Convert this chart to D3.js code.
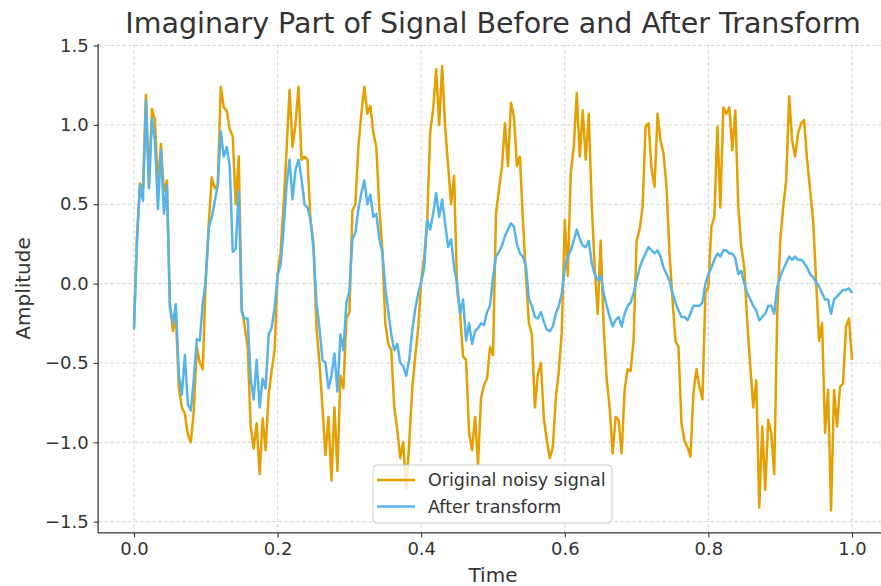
<!DOCTYPE html>
<html>
<head>
<meta charset="utf-8">
<script src="https://cdn.jsdelivr.net/npm/d3@7"></script>
<style>
    body { margin: 0; background: #fff; }
    svg { display: block; font-family: "DejaVu Sans", sans-serif; }
</style>
</head>
<body>
<div id="chart-div"></div>
<script>
// Values, one per time step (t = i / 240).
const originalSignal = [
    -0.27, 0.30, 0.63, 0.60, 1.19, 0.62, 1.10, 1.03, 0.62, 0.88,
    0.58, 0.65, -0.12, -0.30, -0.20, -0.66, -0.78, -0.82, -0.95, -1.00,
    -0.80, -0.40, -0.50, -0.54, 0.04, 0.38, 0.67, 0.60, 0.62, 1.24,
    1.11, 1.09, 0.97, 0.93, 0.50, 0.80, -0.15, -0.27, -0.40, -0.90,
    -1.04, -0.88, -1.20, -0.85, -1.05, -0.70, -0.55, -0.42, 0.06, 0.20,
    0.50, 0.84, 1.22, 0.86, 1.01, 1.24, 0.78, 0.80, 0.78, 0.40,
    0.25, -0.28, -0.50, -0.78, -1.08, -0.84, -1.24, -0.78, -1.18, -0.58,
    -0.66, -0.22, -0.18, 0.46, 0.50, 0.86, 1.07, 1.24, 1.07, 1.12,
    0.95, 0.86, 0.48, 0.22, -0.25, -0.38, -0.42, -0.78, -0.92, -1.10,
    -1.00, -1.30, -1.00, -0.66, -0.46, -0.28, 0.02, 0.17, 0.40, 0.95,
    1.10, 1.35, 1.00, 1.37, 0.99, 0.74, 0.50, 0.68, -0.04, -0.19,
    -0.46, -0.48, -0.94, -1.05, -0.84, -1.14, -0.72, -0.64, -0.60, -0.40,
    -0.45, 0.44, 0.59, 0.74, 1.01, 0.74, 1.14, 1.05, 0.74, 0.80,
    0.40, 0.05, -0.25, -0.32, -0.78, -0.57, -0.50, -0.85, -0.99, -1.10,
    -1.03, -0.72, -0.55, -0.30, 0.40, 0.05, 0.70, 0.86, 1.20, 0.80,
    1.09, 0.78, 1.07, 0.50, 0.10, -0.19, 0.27, -0.28, -0.60, -0.78,
    -1.07, -0.84, -0.86, -1.07, -0.67, -0.54, -0.55, -0.36, 0.27, 0.34,
    0.48, 0.99, 1.01, 0.72, 0.61, 1.07, 0.90, 0.82, 0.61, 0.19,
    -0.10, -0.36, -0.40, -0.88, -0.99, -1.03, -1.09, -0.69, -0.54, -0.65,
    -0.73, -0.06, -0.02, 0.36, 0.42, 0.99, 0.48, 1.11, 1.07, 1.11,
    0.84, 1.09, 0.48, 0.23, 0.10, -0.25, -0.52, -0.78, -0.61, -1.41,
    -0.90, -1.30, -0.86, -0.94, -1.20, -0.20, 0.27, 0.48, 0.65, 1.18,
    0.90, 0.80, 0.95, 1.01, 1.03, 0.78, 0.59, 0.40, 0.02, -0.36,
    -0.25, -0.94, -0.67, -1.43, -0.67, -0.90, -0.65, -0.63, -0.27, -0.22,
    -0.48
];
const transformedSignal = [
    -0.29, 0.27, 0.62, 0.52, 1.15, 0.60, 1.04, 0.90, 0.47, 0.84,
    0.44, 0.62, -0.15, -0.25, -0.13, -0.58, -0.70, -0.45, -0.76, -0.80,
    -0.60, -0.35, -0.36, -0.12, 0.02, 0.35, 0.42, 0.52, 0.62, 0.96,
    0.80, 0.86, 0.74, 0.20, 0.22, 0.58, -0.18, -0.22, -0.22, -0.60,
    -0.73, -0.48, -0.78, -0.60, -0.66, -0.32, -0.28, -0.15, 0.05, 0.12,
    0.34, 0.62, 0.78, 0.53, 0.72, 0.78, 0.66, 0.50, 0.48, 0.40,
    0.22, -0.12, -0.28, -0.48, -0.50, -0.66, -0.58, -0.44, -0.68, -0.32,
    -0.42, -0.12, -0.05, 0.28, 0.32, 0.47, 0.57, 0.65, 0.50, 0.56,
    0.42, 0.44, 0.28, 0.20, -0.02, -0.18, -0.32, -0.42, -0.38, -0.50,
    -0.52, -0.58, -0.48, -0.30, -0.16, -0.06, 0.01, 0.10, 0.40, 0.34,
    0.44, 0.57, 0.42, 0.53, 0.38, 0.23, 0.28, 0.10, 0.00, -0.19,
    -0.10, -0.36, -0.25, -0.38, -0.30, -0.28, -0.25, -0.26, -0.18, -0.14,
    0.04, 0.17, 0.20, 0.24, 0.30, 0.34, 0.38, 0.36, 0.25, 0.19,
    0.17, 0.11, -0.10, -0.14, -0.21, -0.22, -0.18, -0.24, -0.29, -0.30,
    -0.27, -0.19, -0.14, -0.06, 0.10, 0.17, 0.21, 0.27, 0.34, 0.28,
    0.24, 0.23, 0.27, 0.13, 0.06, 0.02, 0.05, -0.06, -0.14, -0.21,
    -0.27, -0.23, -0.21, -0.27, -0.19, -0.14, -0.12, -0.06, 0.02, 0.10,
    0.15, 0.19, 0.23, 0.21, 0.19, 0.21, 0.17, 0.10, 0.06, 0.02,
    -0.06, -0.12, -0.17, -0.21, -0.21, -0.23, -0.19, -0.14, -0.14, -0.14,
    -0.12, 0.00, 0.06, 0.10, 0.15, 0.19, 0.17, 0.21, 0.21, 0.19,
    0.19, 0.16, 0.06, 0.08, 0.00, -0.06, -0.10, -0.14, -0.17, -0.23,
    -0.21, -0.19, -0.14, -0.14, -0.19, -0.02, 0.04, 0.09, 0.13, 0.17,
    0.15, 0.17, 0.15, 0.15, 0.13, 0.10, 0.06, 0.04, 0.01, -0.02,
    -0.06, -0.10, -0.10, -0.19, -0.10, -0.08, -0.06, -0.04, -0.04, -0.03,
    -0.06
];
const xTicks = [0.0, 0.2, 0.4, 0.6, 0.8, 1.0];
const yTicks = [-1.5, -1.0, -0.5, 0.0, 0.5, 1.0, 1.5];
const seriesNames = ["Original noisy signal", "After transform"];
const seriesColors = ["#E69F00", "#56B4E9"];

(function() {
    const width = 881, height = 586;
    const textColor = "#333333";

    // SCALES /////////////////////////////////////////////////////////////////
    const x = d3.scaleLinear().domain([0, 1]).range([134, 852]);
    const y = d3.scaleLinear().domain([-1.5, 1.5]).range([521.7, 45.5]);
    const left = x(-0.05), right = x(1.05);
    const top = y(1.51), bottom = y(-1.571);

    const svg = d3.select("#chart-div").append("svg")
        .attr("width", width)
        .attr("height", height);

    svg.append("defs").append("clipPath").attr("id", "plot-clip")
        .append("rect")
        .attr("x", left).attr("y", top - 10)
        .attr("width", right - left).attr("height", bottom - top + 10);

    // GRID ///////////////////////////////////////////////////////////////////
    const grid = svg.append("g")
        .attr("stroke", "#cccccc")
        .attr("stroke-width", 0.8)
        .attr("stroke-dasharray", "4,2");
    grid.selectAll(".vgrid").data(xTicks).enter().append("line")
        .attr("x1", d => x(d)).attr("x2", d => x(d))
        .attr("y1", top).attr("y2", bottom);
    grid.selectAll(".hgrid").data(yTicks).enter().append("line")
        .attr("x1", left).attr("x2", right)
        .attr("y1", d => y(d)).attr("y2", d => y(d));

    // LINES //////////////////////////////////////////////////////////////////
    const series = [originalSignal, transformedSignal];
    const line = d3.line()
        .x((d, i) => x(i / (originalSignal.length - 1)))
        .y(d => y(d));
    svg.append("g").attr("clip-path", "url(#plot-clip)")
        .selectAll("path").data(series).enter().append("path")
        .attr("d", line)
        .attr("fill", "none")
        .attr("stroke", (d, i) => seriesColors[i])
        .attr("stroke-width", 2.5)
        .attr("stroke-linejoin", "round");

    // AXES ///////////////////////////////////////////////////////////////////
    const fmt = d => d3.format(".1f")(d).replace("-", "\u2212");
    const xAxis = svg.append("g")
        .attr("transform", `translate(0,${bottom})`)
        .call(d3.axisBottom(x).tickValues(xTicks).tickFormat(fmt)
            .tickSizeInner(4.5).tickSizeOuter(0).tickPadding(5));
    const yAxis = svg.append("g")
        .attr("transform", `translate(${left},0)`)
        .call(d3.axisLeft(y).tickValues(yTicks).tickFormat(fmt)
            .tickSizeInner(4.5).tickSizeOuter(0).tickPadding(5));
    xAxis.select(".domain").attr("d", `M${left},0H${right}`);
    yAxis.select(".domain").attr("d", `M0,${top}V${bottom}`);
    [xAxis, yAxis].forEach(function(a) {
        a.select(".domain").attr("stroke", textColor).attr("stroke-width", 1.25);
        a.selectAll(".tick line").attr("stroke", textColor).attr("stroke-width", 1.1);
        a.selectAll(".tick text")
            .attr("fill", textColor)
            .style("font-size", "18px")
            .style("font-family", "DejaVu Sans");
    });

    // LABELS /////////////////////////////////////////////////////////////////
    svg.append("text")
        .attr("x", (left + right) / 2).attr("y", 33)
        .attr("text-anchor", "middle")
        .attr("fill", textColor)
        .style("font-size", "28.5px")
        .text("Imaginary Part of Signal Before and After Transform");
    svg.append("text")
        .attr("x", (left + right) / 2).attr("y", 582)
        .attr("text-anchor", "middle")
        .attr("fill", textColor)
        .style("font-size", "20px")
        .text("Time");
    svg.append("text")
        .attr("transform", `translate(30,${(top + bottom) / 2}) rotate(-90)`)
        .attr("text-anchor", "middle")
        .attr("fill", textColor)
        .style("font-size", "20px")
        .text("Amplitude");

    // LEGEND /////////////////////////////////////////////////////////////////
    const legend = svg.append("g");
    legend.append("rect")
        .attr("x", 373).attr("y", 465)
        .attr("width", 239).attr("height", 58)
        .attr("rx", 4)
        .attr("fill", "#ffffff").attr("fill-opacity", 0.8)
        .attr("stroke", "#cccccc").attr("stroke-width", 1);
    const items = legend.selectAll(".item").data(seriesNames).enter()
        .append("g")
        .attr("transform", (d, i) => `translate(0,${480 + i * 26.5})`);
    items.append("line")
        .attr("x1", 377).attr("x2", 415)
        .attr("stroke", (d, i) => seriesColors[i])
        .attr("stroke-width", 2.5);
    items.append("text")
        .attr("x", 428).attr("y", 6)
        .attr("fill", textColor)
        .style("font-size", "17.5px")
        .text(d => d);
})();
</script>
</body>
</html>
